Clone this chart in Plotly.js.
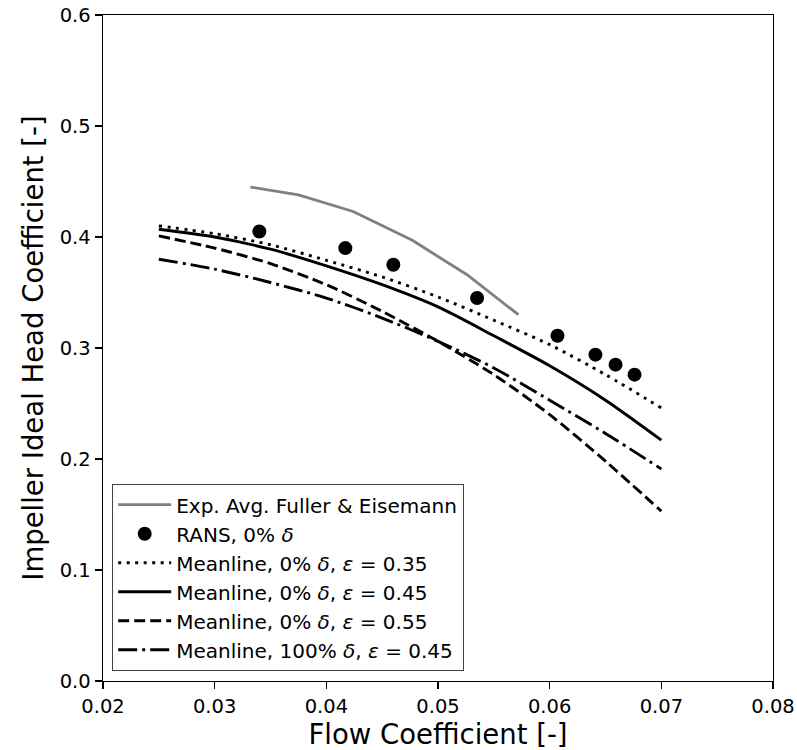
<!DOCTYPE html>
<html>
<head>
<meta charset="utf-8">
<script src="https://cdn.plot.ly/plotly-3.0.1.min.js"></script>
<style>
  html, body { margin: 0; padding: 0; background: #fff; }
  #chart { width: 797px; height: 750px; }
</style>
</head>
<body>
<div id="chart"></div>
<script>
// ---- Data ----
const expX = [0.0332, 0.0375, 0.0424, 0.0477, 0.0526, 0.0572];
const expY = [0.445, 0.438, 0.423, 0.397, 0.366, 0.330];

const ransX = [0.0340, 0.0417, 0.0460, 0.0535, 0.0607, 0.0641, 0.0659, 0.0676];
const ransY = [0.405, 0.390, 0.375, 0.345, 0.311, 0.294, 0.285, 0.276];

const meanX = [0.025, 0.030, 0.035, 0.040, 0.045, 0.050, 0.055, 0.060, 0.065, 0.070];
const mean035 = [0.410, 0.403, 0.393, 0.379, 0.364, 0.346, 0.325, 0.303, 0.276, 0.246];
const mean045 = [0.407, 0.400, 0.389, 0.374, 0.357, 0.337, 0.311, 0.284, 0.253, 0.217];
const mean055 = [0.401, 0.390, 0.376, 0.357, 0.333, 0.306, 0.276, 0.240, 0.198, 0.153];
const mean100d045 = [0.380, 0.371, 0.359, 0.345, 0.327, 0.306, 0.282, 0.253, 0.223, 0.191];

const names = [
  'Exp. Avg. Fuller &amp; Eisemann',
  'RANS, 0% <i>δ</i>',
  'Meanline, 0% <i>δ</i>, <i>ε</i> = 0.35',
  'Meanline, 0% <i>δ</i>, <i>ε</i> = 0.45',
  'Meanline, 0% <i>δ</i>, <i>ε</i> = 0.55',
  'Meanline, 100% <i>δ</i>, <i>ε</i> = 0.45'
];

const xTicks = [0.02, 0.03, 0.04, 0.05, 0.06, 0.07, 0.08];
const yTicks = [0.0, 0.1, 0.2, 0.3, 0.4, 0.5, 0.6];

// ---- Styling ----
const FONT = 'DejaVu Sans, Liberation Sans, sans-serif';
const LW = 2.9;
const SMOOTH = { shape: 'spline', smoothing: 0.8 };

const traces = [
  { x: expX, y: expY, mode: 'lines', name: names[0],
    line: { color: '#808080', width: 2.8 }, legendgroup: 'g0' },
  { x: ransX, y: ransY, mode: 'markers', name: names[1],
    marker: { color: '#000', size: 14, symbol: 'circle' }, legendgroup: 'g1' },
  { x: meanX, y: mean035, mode: 'lines', name: names[2],
    line: Object.assign({ color: '#000', width: LW, dash: '3px,5.5px' }, SMOOTH), legendgroup: 'g2' },
  { x: meanX, y: mean045, mode: 'lines', name: names[3],
    line: Object.assign({ color: '#000', width: LW }, SMOOTH), legendgroup: 'g3' },
  { x: meanX, y: mean055, mode: 'lines', name: names[4],
    line: Object.assign({ color: '#000', width: LW, dash: '11px,5px' }, SMOOTH), legendgroup: 'g4' },
  { x: meanX, y: mean100d045, mode: 'lines', name: names[5],
    line: Object.assign({ color: '#000', width: LW, dash: '19px,5px,3px,5px' }, SMOOTH), legendgroup: 'g5' }
];

const layout = {
  width: 797, height: 750,
  margin: { l: 103, r: 24, t: 15, b: 69, pad: 0 },
  paper_bgcolor: '#fff', plot_bgcolor: '#fff',
  font: { family: FONT, color: '#000', size: 19.5 },
  showlegend: true,
  legend: {
    x: 0.0134, y: 0.015, xanchor: 'left', yanchor: 'bottom',
    bgcolor: '#fff', bordercolor: '#444', borderwidth: 1.2,
    font: { family: FONT, size: 20, color: '#000' },
    traceorder: 'grouped', tracegroupgap: 0,
    itemwidth: 53
  },
  xaxis: {
    range: [0.02, 0.08], tickvals: xTicks, ticktext: xTicks.map(v => v.toFixed(2)),
    showgrid: false, zeroline: false,
    showline: true, linecolor: '#000', linewidth: 1.4, mirror: true,
    ticks: 'outside', ticklen: 7, tickwidth: 1.4, tickcolor: '#000',
    tickfont: { family: FONT, size: 19.5, color: '#000' },
    title: { text: 'Flow Coefficient [-]', font: { family: FONT, size: 27.5, color: '#000' }, standoff: 8 }
  },
  yaxis: {
    range: [0, 0.6], tickvals: yTicks, ticktext: yTicks.map(v => v.toFixed(1)),
    showgrid: false, zeroline: false,
    showline: true, linecolor: '#000', linewidth: 1.4, mirror: true,
    ticks: 'outside', ticklen: 7, tickwidth: 1.4, tickcolor: '#000',
    tickfont: { family: FONT, size: 19.5, color: '#000' },
    title: { text: 'Impeller Ideal Head Coefficient [-]', font: { family: FONT, size: 27.5, color: '#000' }, standoff: 8 }
  }
};

Plotly.newPlot('chart', traces, layout, { displayModeBar: false, staticPlot: true });
</script>
</body>
</html>
